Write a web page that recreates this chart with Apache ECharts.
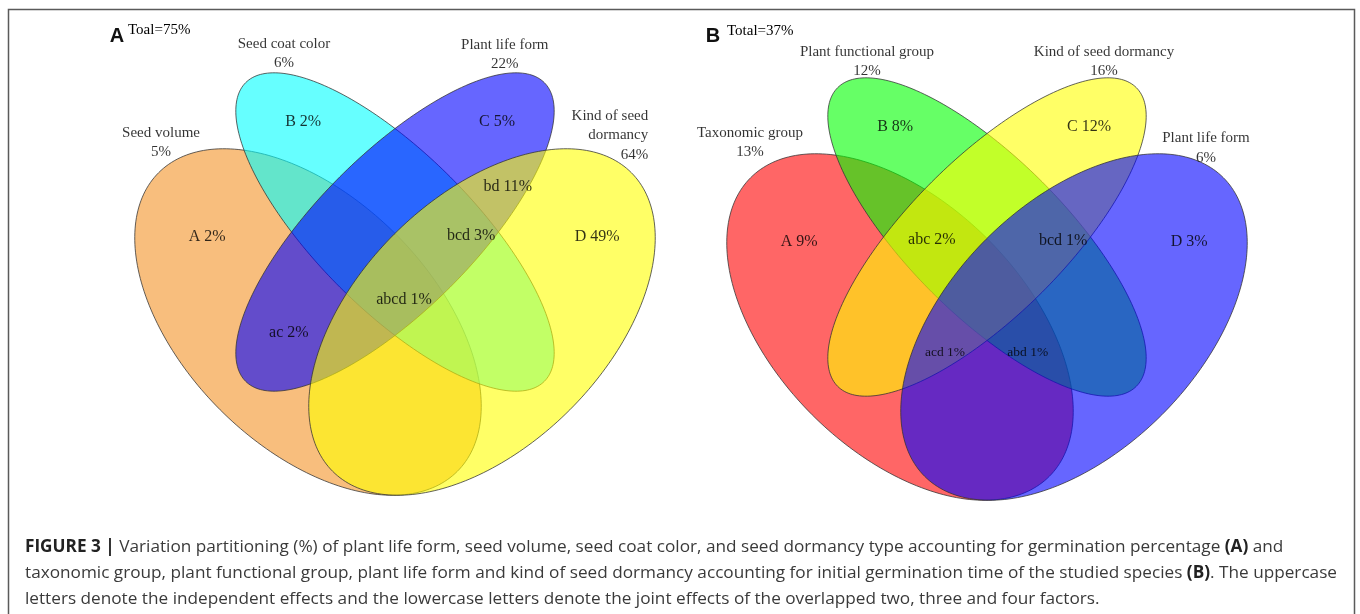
<!DOCTYPE html>
<html>
<head>
<meta charset="utf-8">
<script src="https://cdn.jsdelivr.net/npm/echarts@6/dist/echarts.min.js"></script>
<style>
html, body { margin: 0; padding: 0; background: #fff; }
#main { width: 1360px; height: 614px; }
</style>
</head>
<body>
<div id="main"></div>
<script>
// panel A : germination percentage
var setNamesA = ['Seed volume', 'Seed coat color', 'Plant life form', 'Kind of seed\ndormancy'];
var setValuesA = [5, 6, 22, 64];
var regionCodesA = ['A', 'B', 'C', 'D', 'ac', 'bd', 'bcd', 'abcd'];
var regionValuesA = [2, 2, 5, 49, 2, 11, 3, 1];
var totalA = 75;

// panel B : initial germination time
var setNamesB = ['Taxonomic group', 'Plant functional group', 'Kind of seed dormancy', 'Plant life form'];
var setValuesB = [13, 12, 16, 6];
var regionCodesB = ['A', 'B', 'C', 'D', 'abc', 'bcd', 'acd', 'abd'];
var regionValuesB = [9, 8, 12, 3, 2, 1, 1, 1];
var totalB = 37;

// fixed quad venn layout (unit square, y up)
var ellipses = [
	{cx: 0.355, cy: 0.45, a: 0.352, b: 0.207, rot: 135},
	{cx: 0.5,   cy: 0.60, a: 0.352, b: 0.13,  rot: 135},
	{cx: 0.5,   cy: 0.60, a: 0.352, b: 0.13,  rot: 45},
	{cx: 0.645, cy: 0.45, a: 0.352, b: 0.207, rot: 45}
];

// where each region label sits
var regionPos = {
	'A':    [0.187, 0.592],
	'B':    [0.347, 0.783],
	'C':    [0.670, 0.783],
	'D':    [0.837, 0.592],
	'ac':   [0.323, 0.432],
	'bd':   [0.688, 0.675],
	'bcd':  [0.627, 0.593],
	'abc':  [0.408, 0.595],
	'abcd': [0.515, 0.487],
	'acd':  [0.430, 0.407],
	'abd':  [0.568, 0.407]
};
var smallRegions = ['acd', 'abd'];

// set name label positions + alignment
var setPosA = [[0.110, 0.749, 'center'], [0.315, 0.8975, 'center'], [0.683, 0.896, 'center'], [0.922, 0.761, 'right']];
var setPosB = [[0.105, 0.757, 'center'], [0.300, 0.8925, 'center'], [0.695, 0.8925, 'center'], [0.865, 0.748, 'center']];

var colorsA = ['rgba(243,147,38,0.6)', 'rgba(0,255,255,0.6)', 'rgba(0,0,255,0.6)', 'rgba(255,255,0,0.6)'];
var colorsB = ['rgba(255,0,0,0.6)', 'rgba(0,255,0,0.6)', 'rgba(255,255,0,0.6)', 'rgba(0,0,255,0.6)'];

var serif = '"Liberation Serif", "Times New Roman", serif';
var sans = '"Liberation Sans", Arial, sans-serif';
var capFont = '"Open Sans", "Liberation Sans", Arial, sans-serif';

function ellipseSeries(gridIndex, colors){
	return {
		type: 'custom',
		xAxisIndex: gridIndex,
		yAxisIndex: gridIndex,
		clip: false,
		silent: true,
		data: [[0], [1], [2], [3]],
		renderItem: function(params, api){
			var idx = api.value(0);
			var e = ellipses[idx];
			var r = e.rot * Math.PI / 180;
			var pts = [];
			for(var k = 0; k < 240; ++k){
				var t = k / 240 * 2 * Math.PI;
				var x = e.cx + e.a * Math.cos(t) * Math.cos(r) - e.b * Math.sin(t) * Math.sin(r);
				var y = e.cy + e.a * Math.cos(t) * Math.sin(r) + e.b * Math.sin(t) * Math.cos(r);
				pts.push(api.coord([x, y]));
			}
			return {
				type: 'polygon',
				shape: {points: pts},
				style: {fill: colors[idx], stroke: 'rgba(50,50,50,0.85)', lineWidth: 0.9}
			};
		}
	};
}

function regionSeries(gridIndex, codes, values){
	var data = [];
	for(var i = 0; i < codes.length; ++i){
		var p = regionPos[codes[i]];
		data.push({
			name: codes[i] + ' ' + values[i] + '%',
			value: [p[0], p[1]],
			label: {fontSize: smallRegions.indexOf(codes[i]) >= 0 ? 13.5 : 16}
		});
	}
	return {
		type: 'scatter',
		xAxisIndex: gridIndex,
		yAxisIndex: gridIndex,
		clip: false,
		silent: true,
		symbolSize: 0,
		z: 5,
		label: {
			show: true,
			position: 'inside',
			formatter: '{b}',
			color: '#000',
			fontFamily: serif
		},
		data: data
	};
}

function setSeries(gridIndex, names, values, pos){
	var data = [];
	for(var i = 0; i < names.length; ++i){
		data.push({
			name: names[i] + '\n' + values[i] + '%',
			value: [pos[i][0], pos[i][1]],
			label: {align: pos[i][2]}
		});
	}
	return {
		type: 'scatter',
		xAxisIndex: gridIndex,
		yAxisIndex: gridIndex,
		clip: false,
		silent: true,
		symbolSize: 0,
		z: 5,
		label: {
			show: true,
			position: 'inside',
			formatter: '{b}',
			color: '#000',
			fontFamily: serif,
			fontSize: 15,
			lineHeight: 19.5
		},
		data: data
	};
}

var caption =
	'{b|FIGURE 3 |} Variation partitioning (%) of plant life form, seed volume, seed coat color, and seed dormancy type accounting for germination percentage {b|(A)} and\n' +
	'taxonomic group, plant functional group, plant life form and kind of seed dormancy accounting for initial germination time of the studied species {b|(B)}. The uppercase\n' +
	'letters denote the independent effects and the lowercase letters denote the joint effects of the overlapped two, three and four factors.';

var chart = echarts.init(document.getElementById('main'), null, {renderer: 'canvas'});

var option = {
	animation: false,
	backgroundColor: '#fff',
	grid: [
		{left: 95, top: 22, width: 600, height: 540},
		{left: 687, top: 27, width: 600, height: 540}
	],
	xAxis: [
		{type: 'value', gridIndex: 0, min: 0, max: 1, show: false},
		{type: 'value', gridIndex: 1, min: 0, max: 1, show: false}
	],
	yAxis: [
		{type: 'value', gridIndex: 0, min: 0.05, max: 0.95, show: false},
		{type: 'value', gridIndex: 1, min: 0.05, max: 0.95, show: false}
	],
	series: [
		ellipseSeries(0, colorsA),
		ellipseSeries(1, colorsB),
		regionSeries(0, regionCodesA, regionValuesA),
		regionSeries(1, regionCodesB, regionValuesB),
		setSeries(0, setNamesA, setValuesA, setPosA),
		setSeries(1, setNamesB, setValuesB, setPosB)
	],
	graphic: [
		{
			type: 'rect',
			shape: {x: 8.5, y: 9.5, width: 1346, height: 640},
			style: {fill: null, stroke: '#5a5a5a', lineWidth: 1.5},
			silent: true
		},
		{
			type: 'text', x: 117, y: 36,
			style: {text: 'A', font: 'bold 20px ' + sans, fill: '#111', align: 'center', verticalAlign: 'middle'}
		},
		{
			type: 'text', x: 128, y: 30,
			style: {text: 'Toal=' + totalA + '%', font: '15px ' + serif, fill: '#000', align: 'left', verticalAlign: 'middle'}
		},
		{
			type: 'text', x: 713, y: 36,
			style: {text: 'B', font: 'bold 20px ' + sans, fill: '#111', align: 'center', verticalAlign: 'middle'}
		},
		{
			type: 'text', x: 727, y: 31,
			style: {text: 'Total=' + totalB + '%', font: '15px ' + serif, fill: '#000', align: 'left', verticalAlign: 'middle'}
		},
		{
			type: 'text', x: 25, y: 534,
			style: {
				text: caption,
				fontFamily: capFont,
				fontSize: 17.2,
				lineHeight: 26,
				fill: '#3a3a3a',
				rich: {
					b: {fontFamily: capFont, fontSize: 17.2, fontWeight: 'bold', fill: '#222', lineHeight: 26}
				}
			}
		}
	]
};

chart.setOption(option);
</script>
</body>
</html>
